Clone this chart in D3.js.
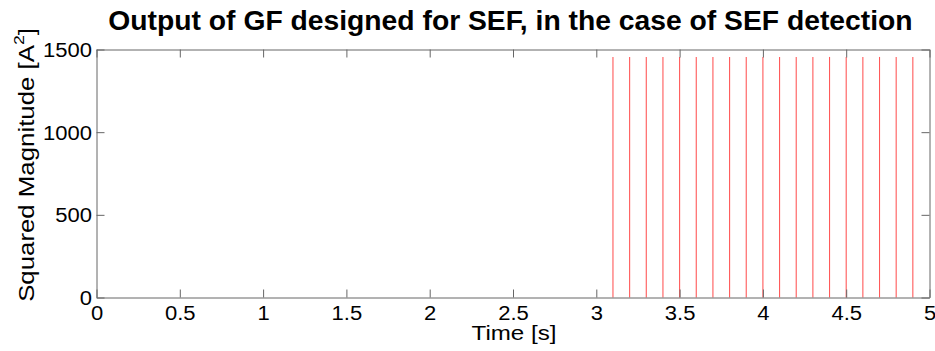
<!DOCTYPE html>
<html>
<head>
<meta charset="utf-8">
<script src="https://cdn.jsdelivr.net/npm/d3@7"></script>
<style>
  body { margin: 0; background: white; }
  text { font-family: "Liberation Sans", Arial, sans-serif; }
</style>
</head>
<body>
<div id="container"></div>
<script>
let w = 935;
let h = 351;

// data
let pulseTimes = [3.1, 3.2, 3.3, 3.4, 3.5, 3.6, 3.7, 3.8, 3.9, 4.0, 4.1, 4.2, 4.3, 4.4, 4.5, 4.6, 4.7, 4.8, 4.9];
let pulseValues = [1455, 1455, 1455, 1455, 1455, 1455, 1455, 1455, 1455, 1455, 1455, 1455, 1455, 1455, 1455, 1455, 1455, 1455, 1455];
let xTicks = [0, 0.5, 1, 1.5, 2, 2.5, 3, 3.5, 4, 4.5, 5];
let yTicks = [0, 500, 1000, 1500];

let plotLeft = 96.5, plotRight = 929.5, plotTop = 49.5, plotBottom = 297.5;

let viz = d3.select("#container").append("svg")
    .attr("width", w)
    .attr("height", h)
    .style("background-color", "white");

let xScale = d3.scaleLinear().domain([0, 5]).range([plotLeft, plotRight]);
let yScale = d3.scaleLinear().domain([0, 1500]).range([plotBottom, plotTop]);

// stems
viz.selectAll(".pulse").data(pulseTimes).enter()
  .append("line")
    .attr("class", "pulse")
    .attr("x1", function(d){ return xScale(d); })
    .attr("x2", function(d){ return xScale(d); })
    .attr("y1", yScale(0))
    .attr("y2", function(d, i){ return yScale(pulseValues[i]); })
    .attr("stroke", "#ff5a5a")
    .attr("stroke-width", 1.1);

let axisColor = "#666";
let tickLen = 8;
let tickStretch = 1.13; // the original's small text is drawn a bit wide

// axes (ticks inside, box on)
let xBottom = d3.axisBottom(xScale).tickValues(xTicks).tickSizeInner(-tickLen).tickSizeOuter(0).tickPadding(0)
  .tickFormat(function(d){ return d; });
let xTop = d3.axisTop(xScale).tickValues(xTicks).tickSizeInner(-tickLen).tickSizeOuter(0).tickFormat("");
let yLeft = d3.axisLeft(yScale).tickValues(yTicks).tickSizeInner(-tickLen).tickSizeOuter(0).tickPadding(4)
  .tickFormat(function(d){ return d; });
let yRight = d3.axisRight(yScale).tickValues(yTicks).tickSizeInner(-tickLen).tickSizeOuter(0).tickFormat("");

function styleAxis(g){
  g.select(".domain").attr("stroke", axisColor);
  g.selectAll(".tick line").attr("stroke", axisColor);
  g.selectAll(".tick text").attr("fill", "#000").style("font-size", "19.5px")
    .style("font-family", "'Liberation Sans', Arial, sans-serif");
}

let gx = viz.append("g").attr("transform", "translate(0," + plotBottom + ")").call(xBottom).call(styleAxis);
gx.selectAll(".tick text").attr("y", 22.5).attr("dy", null)
  .attr("transform", "scale(" + tickStretch + ",1)");
viz.append("g").attr("transform", "translate(0," + plotTop + ")").call(xTop).call(styleAxis);
let gy = viz.append("g").attr("transform", "translate(" + plotLeft + ",0)").call(yLeft).call(styleAxis);
gy.selectAll(".tick text").attr("x", -4.5 / tickStretch).attr("dy", "0.36em")
  .attr("transform", "scale(" + tickStretch + ",1)");
viz.append("g").attr("transform", "translate(" + plotRight + ",0)").call(yRight).call(styleAxis);

// stretch a text so its width fits what the original shows
function fitWidth(sel, cx, cy, rot, want){
  let len = sel.node().getComputedTextLength();
  let s = want / len;
  sel.attr("transform", "translate(" + cx + "," + cy + ") rotate(" + rot + ") scale(" + s + ",1)");
}

// title
let title = viz.append("text")
  .text("Output of GF designed for SEF, in the case of SEF detection")
  .attr("text-anchor", "middle")
  .style("font-size", "28px")
  .style("font-weight", "bold");
fitWidth(title, (108 + 913) / 2, 30, 0, 805);

// axis labels
let xl = viz.append("text")
  .text("Time [s]")
  .attr("text-anchor", "middle")
  .style("font-size", "20px");
fitWidth(xl, 514, 340, 0, 85);

let yl = viz.append("text")
  .attr("text-anchor", "middle")
  .style("font-size", "22px");
yl.append("tspan").text("Squared Magnitude [A");
yl.append("tspan").text("2").attr("dy", -10).style("font-size", "15px");
yl.append("tspan").text("]").attr("dy", 10);
fitWidth(yl, 34, 165, -90, 274);
</script>
</body>
</html>
